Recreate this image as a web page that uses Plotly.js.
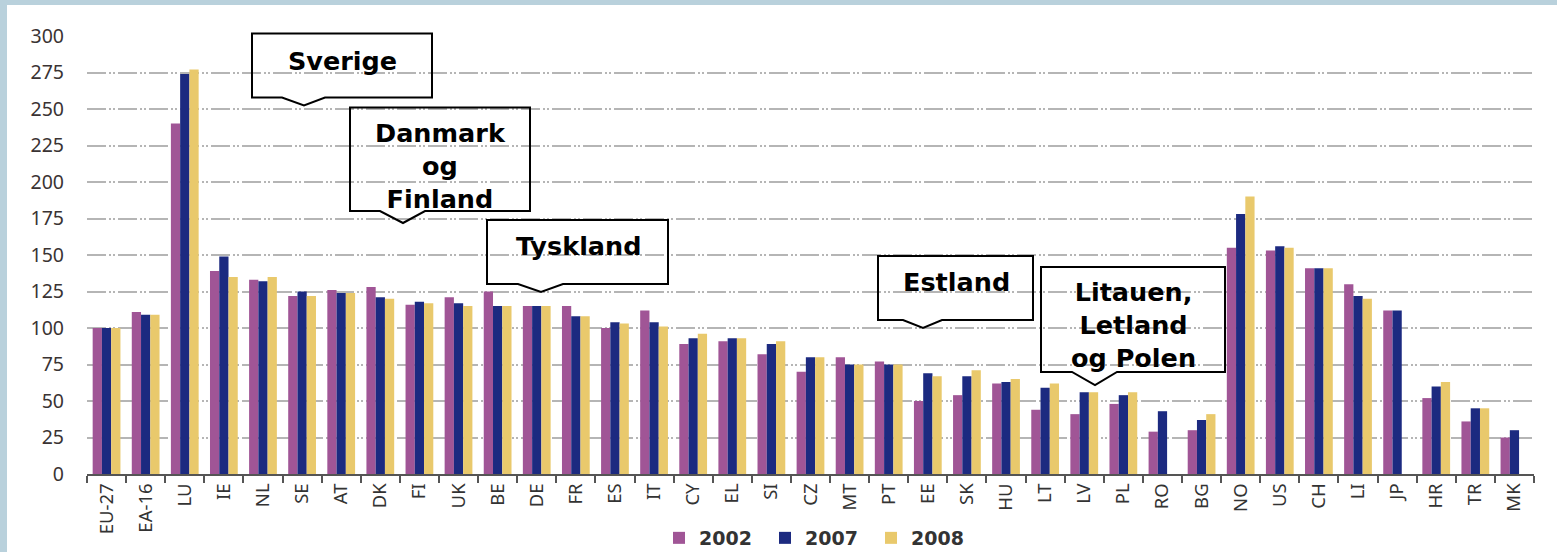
<!DOCTYPE html>
<html>
<head>
<meta charset="utf-8">
<script src="https://cdn.plot.ly/plotly-3.0.1.min.js"></script>
<style>
  html, body { margin: 0; padding: 0; background: #b9d1dc; width: 1557px; height: 552px; overflow: hidden; }
  #chart { position: absolute; left: 7px; top: 5px; width: 1550px; height: 570px; background: #ffffff; }
</style>
</head>
<body>
<div id="chart"></div>
<script>
// ---- data ----
const categories = ['EU-27','EA-16','LU','IE','NL','SE','AT','DK','FI','UK','BE','DE','FR','ES','IT','CY','EL','SI','CZ','MT','PT','EE','SK','HU','LT','LV','PL','RO','BG','NO','US','CH','LI','JP','HR','TR','MK'];
const seriesNames = ['2002', '2007', '2008'];
const v2002 = [100,111,240,139,133,122,126,128,116,121,125,115,115,100,112,89,91,82,70,80,77,50,54,62,44,41,48,29,30,155,153,141,130,112,52,36,25];
const v2007 = [100,109,274,149,132,125,124,121,118,117,115,115,108,104,104,93,93,89,80,75,75,69,67,63,59,56,54,43,37,178,156,141,122,112,60,45,30];
const v2008 = [100,109,277,135,135,122,124,120,117,115,115,115,108,103,101,96,93,91,80,75,75,67,71,65,62,56,56,null,41,190,155,141,120,null,63,45,null];
const yTicks = [0,25,50,75,100,125,150,175,200,225,250,275,300];
const calloutLabels = ['Sverige', 'Danmark<br>og<br>Finland', 'Tyskland', 'Estland', 'Litauen,<br>Letland<br>og Polen'];

// ---- styles / layout geometry ----
const colors = ['#a05596', '#1c2a80', '#e9c96c'];
const W = 1550, H = 570;           // div is taller than the window; the extra is cropped
const M = {l: 80, r: 23, t: 31, b: 101};
const plotW = W - M.l - M.r, plotH = H - M.t - M.b;
// page-pixel geometry of the callout boxes (offset of chart div: 7, 5)
const calloutGeom = [
  {l:252, r:432,  t:33.5, b:97.5, nl:282,  nr:325,  tx:304,  ty:105.5, cx:342,  cy:61},
  {l:350, r:530,  t:107.5,b:211,  nl:380,  nr:425,  tx:403,  ty:223,   cx:440,  cy:166},
  {l:487, r:668,  t:220,  b:284,  nl:518,  nr:563,  tx:541,  ty:292,   cx:578,  cy:246},
  {l:878, r:1033, t:256,  b:320,  nl:903,  nr:942,  tx:923,  ty:328,   cx:956,  cy:282},
  {l:1041,r:1225, t:267,  b:372,  nl:1072, nr:1117, tx:1095, ty:385,   cx:1133, cy:325}
];
const px = x => (x - 7 - M.l) / plotW;
const py = y => (H - M.b - (y - 5)) / plotH;

const values = [v2002, v2007, v2008];
const traces = seriesNames.map((name, i) => ({
  type: 'bar',
  name: name,
  x: categories,
  y: values[i],
  marker: {color: colors[i], line: {width: 0}},
  hoverinfo: 'skip'
}));

const shapes = calloutGeom.map(g => ({
  type: 'path',
  xref: 'paper', yref: 'paper',
  path: `M${px(g.l)},${py(g.t)} L${px(g.r)},${py(g.t)} L${px(g.r)},${py(g.b)} L${px(g.nr)},${py(g.b)} L${px(g.tx)},${py(g.ty)} L${px(g.nl)},${py(g.b)} L${px(g.l)},${py(g.b)} Z`,
  line: {color: '#000000', width: 2},
  fillcolor: 'rgba(0,0,0,0)',
  layer: 'above'
}));

const annotations = calloutGeom.map((g, i) => ({
  xref: 'paper', yref: 'paper',
  x: px(g.cx), y: py(g.cy),
  xanchor: 'center', yanchor: 'middle',
  text: calloutLabels[i],
  showarrow: false,
  align: 'center',
  font: {family: 'DejaVu Sans', size: 25.5, color: '#000000', weight: 'bold'}
}));

const layout = {
  width: W, height: H,
  margin: M,
  paper_bgcolor: '#ffffff',
  plot_bgcolor: '#ffffff',
  barmode: 'group',
  bargap: 0.29,
  bargroupgap: 0,
  showlegend: true,
  legend: {
    orientation: 'h',
    x: px(818), xanchor: 'center',
    y: py(538), yanchor: 'middle',
    font: {family: 'DejaVu Sans', size: 19, color: '#333333', weight: 'bold'},
    itemwidth: 30,
    entrywidth: 61,
    bgcolor: 'rgba(0,0,0,0)',
    traceorder: 'normal'
  },
  xaxis: {
    type: 'category',
    automargin: false,
    range: [-0.5, categories.length - 0.5],
    tickson: 'boundaries',
    ticks: 'outside', ticklen: 7, tickwidth: 2, tickcolor: '#555555',
    showline: true, linecolor: '#555555', linewidth: 2,
    showgrid: false, zeroline: false,
    tickangle: -90,
    tickfont: {family: 'Noto Sans', size: 18.5, color: '#333333'},
    fixedrange: true
  },
  yaxis: {
    automargin: false,
    range: [0, 300],
    tickvals: yTicks,
    ticktext: yTicks.map(String),
    showgrid: true, gridcolor: '#b5b5b5', gridwidth: 2,
    griddash: '19px,3px,2px,2px,2px,3px',
    zeroline: false, showline: false, ticks: '',
    ticklabelstandoff: 22,
    tickfont: {family: 'Noto Sans', size: 19.5, color: '#3a3333'},
    fixedrange: true
  },
  shapes: shapes,
  annotations: annotations
};

Plotly.newPlot('chart', traces, layout, {displayModeBar: false, staticPlot: true});
</script>
</body>
</html>
